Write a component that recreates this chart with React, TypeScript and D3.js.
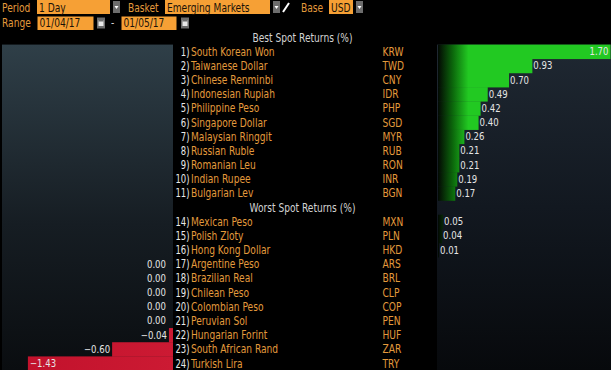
import React from "react";
import * as d3 from "d3";

const bestRanks = [1, 2, 3, 4, 5, 6, 7, 8, 9, 10, 11];
const bestNames = ["South Korean Won", "Taiwanese Dollar", "Chinese Renminbi", "Indonesian Rupiah", "Philippine Peso", "Singapore Dollar", "Malaysian Ringgit", "Russian Ruble", "Romanian Leu", "Indian Rupee", "Bulgarian Lev"];
const bestCodes = ["KRW", "TWD", "CNY", "IDR", "PHP", "SGD", "MYR", "RUB", "RON", "INR", "BGN"];
const bestValues = [1.70, 0.93, 0.70, 0.49, 0.42, 0.40, 0.26, 0.21, 0.21, 0.19, 0.17];

const worstRanks = [14, 15, 16, 17, 18, 19, 20, 21, 22, 23, 24];
const worstNames = ["Mexican Peso", "Polish Zloty", "Hong Kong Dollar", "Argentine Peso", "Brazilian Real", "Chilean Peso", "Colombian Peso", "Peruvian Sol", "Hungarian Forint", "South African Rand", "Turkish Lira"];
const worstCodes = ["MXN", "PLN", "HKD", "ARS", "BRL", "CLP", "COP", "PEN", "HUF", "ZAR", "TRY"];
const worstValues = [0.05, 0.04, 0.01, 0.00, 0.00, 0.00, 0.00, 0.00, -0.04, -0.60, -1.43];

const bestTitle = "Best Spot Returns (%)";
const worstTitle = "Worst Spot Returns (%)";

const W = 611;
const H = 370;
const FONT = "'Liberation Sans Narrow', 'DejaVu Sans Condensed', 'Liberation Sans', sans-serif";
const ORANGE_TXT = "#e39a3c";
const BOX = "#f6a035";
const GREEN = "#22c922";

type Row = { slot: number; rank: number; name: string; code: string; value: number };

function T(props: { x: number; y: number; sx?: number; fill: string; anchor?: string; dy?: string; children: React.ReactNode }) {
  const sx = props.sx ?? 0.88;
  return (
    <text transform={`translate(${props.x},${props.y}) scale(${sx},1)`} fill={props.fill} textAnchor={props.anchor ?? "start"} dy={props.dy}>
      {props.children}
    </text>
  );
}

export default function App() {
  const rows: Row[] = [
    ...bestRanks.map((r, i) => ({ slot: i + 1, rank: r, name: bestNames[i], code: bestCodes[i], value: bestValues[i] })),
    ...worstRanks.map((r, i) => ({ slot: i + 13, rank: r, name: worstNames[i], code: worstCodes[i], value: worstValues[i] })),
  ];

  const y = d3.scaleLinear().domain([0, 23]).range([37.5, 363.5]);
  const rowH = y(1) - y(0);
  const maxV = d3.max(bestValues) as number;
  const minV = d3.min(worstValues) as number;
  const xPos = d3.scaleLinear().domain([0, maxV]).range([438, 610.5]);
  const unit = (610.5 - 438) / maxV;
  const xNeg = d3.scaleLinear().domain([minV, 0]).range([173 + minV * unit, 173]);
  const fmt = d3.format(".2f");

  const panelTop = y(1) - rowH / 2;
  const dark = "#1a1208";

  const header = (
    <g fontFamily={FONT} fontSize={11.5}>
      <T x={2} y={11.5} fill={ORANGE_TXT}>Period</T>
      <rect x={37} y={0} width={73} height={14} fill={BOX} />
      <T x={39} y={11.5} fill={dark}>1 Day</T>
      <rect x={113} y={1} width={7} height={12} fill="#6d6d6d" />
      <path d="M114.5,6 L118.5,6 L116.5,9 Z" fill="#ffffff" />
      <T x={128} y={11.5} fill={ORANGE_TXT}>Basket</T>
      <rect x={165} y={0} width={105} height={14} fill={BOX} />
      <T x={167} y={11.5} fill={dark}>Emerging Markets</T>
      <rect x={273} y={1} width={7} height={12} fill="#6d6d6d" />
      <path d="M274.5,6 L278.5,6 L276.5,9 Z" fill="#ffffff" />
      <line x1={283} y1={12} x2={289} y2={3} stroke="#ffffff" strokeWidth={2} />
      <T x={301} y={11.5} fill={ORANGE_TXT}>Base</T>
      <rect x={329} y={0} width={24} height={14} fill={BOX} />
      <T x={331} y={11.5} fill={dark}>USD</T>
      <rect x={356} y={1} width={7} height={12} fill="#6d6d6d" />
      <path d="M357.5,6 L361.5,6 L359.5,9 Z" fill="#ffffff" />
      <T x={2} y={27} fill={ORANGE_TXT}>Range</T>
      <rect x={37.5} y={16.5} width={56} height={13.5} fill={BOX} />
      <T x={39.5} y={27} fill={dark}>01/04/17</T>
      <rect x={97} y={17.5} width={8} height={11} fill="#6d6d6d" />
      <rect x={98.5} y={20} width={5} height={6} fill="#e8e8e8" />
      <rect x={98.5} y={20} width={5} height={1.5} fill="#6d6d6d" />
      <T x={111} y={27} fill="#cfcfcf">-</T>
      <rect x={121.5} y={16.5} width={55} height={13.5} fill={BOX} />
      <T x={123.5} y={27} fill={dark}>01/05/17</T>
      <rect x={181} y={17.5} width={8} height={11} fill="#6d6d6d" />
      <rect x={182.5} y={20} width={5} height={6} fill="#e8e8e8" />
      <rect x={182.5} y={20} width={5} height={1.5} fill="#6d6d6d" />
    </g>
  );

  return (
    <div style={{ position: "fixed", left: 0, top: 0, width: W, height: H, background: "#000" }}>
      <svg width={W} height={H} style={{ display: "block" }}>
        <defs>
          <linearGradient id="leftPanel" x1="0" y1="0" x2="0" y2="1">
            <stop offset="0" stopColor="#2f3f48" />
            <stop offset="0.55" stopColor="#161d23" />
            <stop offset="1" stopColor="#0a0d10" />
          </linearGradient>
          <linearGradient id="rightPanel" x1="0" y1="0" x2="0" y2="1">
            <stop offset="0" stopColor="#1f2832" />
            <stop offset="0.5" stopColor="#121820" />
            <stop offset="1" stopColor="#07090c" />
          </linearGradient>
          <linearGradient id="greenGrad" gradientUnits="userSpaceOnUse" x1={xPos(0)} y1="0" x2={xPos(0.3)} y2="0">
            <stop offset="0" stopColor="#030803" />
            <stop offset="0.5" stopColor="#0c6a0c" />
            <stop offset="1" stopColor={GREEN} />
          </linearGradient>
          <linearGradient id="redGrad" gradientUnits="userSpaceOnUse" x1={xNeg(minV)} y1="0" x2={xNeg(0)} y2="0">
            <stop offset="0" stopColor="#c2122c" />
            <stop offset="1" stopColor="#cc1a33" />
          </linearGradient>
        </defs>
        <rect x={0} y={0} width={W} height={H} fill="#000" />
        {header}

        <rect x={2} y={panelTop} width={171} height={H - panelTop} fill="url(#leftPanel)" />
        <rect x={437} y={panelTop} width={W - 437} height={H - panelTop} fill="url(#rightPanel)" />

        {rows.filter((r) => r.value > 0).map((r) => (
          <rect key={"g" + r.code} x={xPos(0)} y={y(r.slot) - rowH / 2} width={xPos(r.value) - xPos(0)} height={rowH + 0.3} fill="url(#greenGrad)" />
        ))}
        {rows.filter((r) => r.value < 0).map((r) => (
          <rect key={"r" + r.code} x={xNeg(r.value)} y={y(r.slot) - rowH / 2} width={xNeg(0) - xNeg(r.value)} height={rowH + 0.3} fill="url(#redGrad)" />
        ))}

        <g fontFamily={FONT} fontSize={10}>
          {rows.map((r) => {
            if (r.value > 0) {
              const end = xPos(r.value);
              const inside = end + 24 > W;
              return (
                <T key={"v" + r.code} x={inside ? end - 2 : end + 1} y={y(r.slot)} dy="0.35em" sx={0.95} anchor={inside ? "end" : "start"} fill="#e6e6e6">
                  {fmt(r.value)}
                </T>
              );
            }
            const end = xNeg(r.value);
            const inside = end - 26 < 2;
            return (
              <T key={"v" + r.code} x={inside ? end + 2 : r.value === 0 ? xNeg(0) - 7 : end - 2} y={y(r.slot)} dy="0.35em" sx={0.95} anchor={inside ? "start" : "end"} fill="#e6e6e6">
                {r.value === 0 ? "0.00" : fmt(r.value)}
              </T>
            );
          })}
        </g>

        <g fontFamily={FONT} fontSize={11.5}>
          <T x={302.5} y={y(0)} dy="0.35em" anchor="middle" fill="#d2d2d2">{bestTitle}</T>
          <T x={302.5} y={y(12)} dy="0.35em" anchor="middle" fill="#d2d2d2">{worstTitle}</T>
        </g>

        <g fontFamily={FONT} fontSize={11.5}>
          {rows.map((r) => (
            <g key={"l" + r.code}>
              <T x={189.5} y={y(r.slot)} dy="0.35em" anchor="end" sx={0.82} fill="#e8e8e8">{r.rank + ")"}</T>
              <T x={191} y={y(r.slot)} dy="0.35em" fill={ORANGE_TXT}>{r.name}</T>
              <T x={382.5} y={y(r.slot)} dy="0.35em" fill={ORANGE_TXT}>{r.code}</T>
            </g>
          ))}
        </g>
      </svg>
    </div>
  );
}
